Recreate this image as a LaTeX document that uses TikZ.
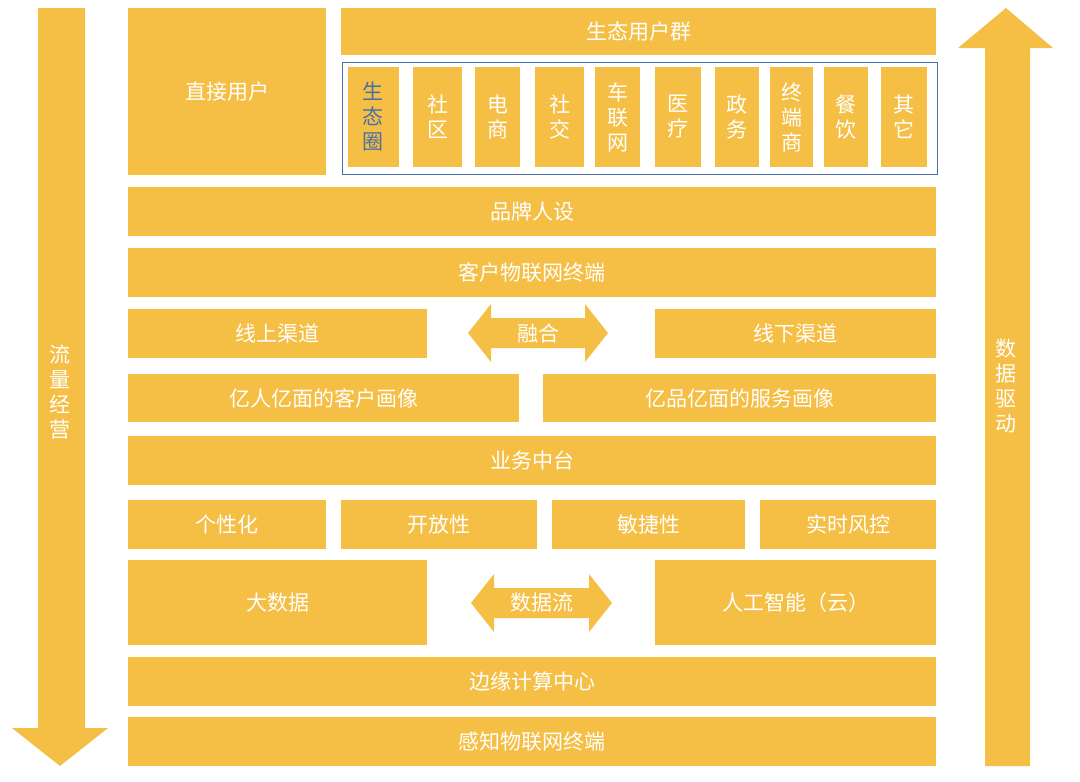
\documentclass[tikz,border=0pt]{standalone}
\usepackage{fontspec}
\setmainfont{Noto Sans CJK SC}
\definecolor{gold}{HTML}{F5BF45}
\definecolor{frameblue}{HTML}{4A6FA5}
\tikzset{
  lbl/.style={text=white,font=\fontsize{21}{23}\selectfont},
  col/.style={text=white,font=\fontsize{21}{25}\selectfont,align=center},
}
\newcommand{\blkbox}[6]{%
  \fill[gold] (#1,#2) rectangle (#3,#4);
  \node[lbl] (#5) at ({(#1+#3)/2},{(#2+#4)/2}) {#6};}
% double arrow: x1 x2 ycentre name text
\newcommand{\dblarrow}[5]{%
  \fill[gold] (#1,#3) -- (#1+23,#3-29) -- (#1+23,#3-15) -- (#2-23,#3-15) -- (#2-23,#3-29)
    -- (#2,#3) -- (#2-23,#3+29) -- (#2-23,#3+15) -- (#1+23,#3+15) -- (#1+23,#3+29) -- cycle;
  \node[lbl] (#4) at ({(#1+#2)/2},#3) {#5};}
\begin{document}
\begin{tikzpicture}[x=1pt,y=-1pt]
\useasboundingbox (0,0) rectangle (1080,782);
% side arrows
\fill[gold] (38,8) -- (85,8) -- (85,728) -- (108,728) -- (60,766) -- (12,728) -- (38,728) -- cycle;
\node[col] (flow) at (60,392) {流\\量\\经\\营};
\fill[gold] (985,766) -- (1030,766) -- (1030,48) -- (1053,48) -- (1006,8) -- (958,48) -- (985,48) -- cycle;
\node[col] (drive) at (1006,386) {数\\据\\驱\\动};
% top
\fill[gold] (128,8) rectangle (326,175);
\node[lbl] (direct) at (227,92) {直接用户};
\blkbox{341}{8}{936}{55}{eco}{生态用户群}
\draw[frameblue,line width=1pt] (342,62) rectangle (937,174);
\foreach \a/\b/\t [count=\i] in {413/462/社\\区,475/520/电\\商,535/584/社\\交,595/640/车\\联\\网,655/701/医\\疗,715/759/政\\务,770/813/终\\端\\商,824/868/餐\\饮,881/927/其\\它}{
  \fill[gold] (\a,67) rectangle (\b,167);
  \node[col] (c\i) at ({(\a+\b)/2},117) {\t};
}
\fill[gold] (348,67) rectangle (399,167);
\node[col,text=frameblue] (c0) at (373,117) {生\\态\\圈};
% rows
\blkbox{128}{187}{936}{236}{brand}{品牌人设}
\blkbox{128}{248}{936}{297}{iot}{客户物联网终端}
\blkbox{128}{309}{427}{358}{online}{线上渠道}
\blkbox{655}{309}{936}{358}{offline}{线下渠道}
\dblarrow{468}{608}{333}{fuse}{融合}
\blkbox{128}{374}{519}{422}{cust}{亿人亿面的客户画像}
\blkbox{543}{374}{936}{422}{serv}{亿品亿面的服务画像}
\blkbox{128}{436}{936}{485}{mid}{业务中台}
\blkbox{128}{500}{326}{549}{pers}{个性化}
\blkbox{341}{500}{537}{549}{open}{开放性}
\blkbox{552}{500}{745}{549}{agile}{敏捷性}
\blkbox{760}{500}{936}{549}{risk}{实时风控}
\blkbox{128}{560}{427}{645}{bigdata}{大数据}
\blkbox{655}{560}{936}{645}{ai}{人工智能（云）}
\dblarrow{471}{612}{603}{stream}{数据流}
\blkbox{128}{657}{936}{706}{edge}{边缘计算中心}
\blkbox{128}{717}{936}{766}{sense}{感知物联网终端}
\end{tikzpicture}
\end{document}
